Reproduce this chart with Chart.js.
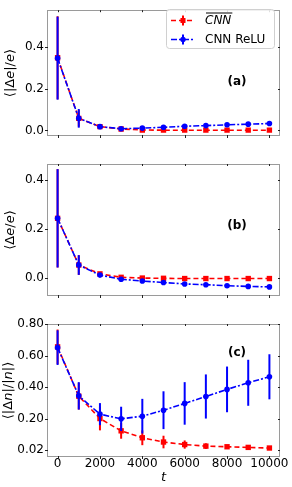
<!DOCTYPE html>
<html><head><meta charset="utf-8">
<script src="https://cdn.jsdelivr.net/npm/chart.js@4.4.1/dist/chart.umd.min.js"></script>
<style>
html,body{margin:0;padding:0;background:#fff;width:292px;height:487px;overflow:hidden}
.p{position:absolute;left:0;width:292px}
canvas{display:block}
</style></head><body>
<div class="p" style="top:0"><canvas id="ca" width="292" height="150"></canvas></div>
<div class="p" style="top:150px"><canvas id="cb" width="292" height="160"></canvas></div>
<div class="p" style="top:310px"><canvas id="cc" width="292" height="177"></canvas></div>
<script>
// ---------- data ----------
const tValues = [0,1000,2000,3000,4000,5000,6000,7000,8000,9000,10000];
const xTicks = [0,2000,4000,6000,8000,10000];

// panel (a) <|Δe|/e>
const aCnn     = [0.350,0.058,0.018,0.007,0.002,0.001,0.001,0.001,0.001,0.001,0.001];
const aCnnErr  = [0.200,0.040,0.006,0.003,0.002,0.002,0.002,0.002,0.002,0.002,0.002];
const aRelu    = [0.348,0.058,0.018,0.008,0.011,0.015,0.020,0.023,0.027,0.030,0.033];
const aReluErr = [0.200,0.045,0.006,0.004,0.004,0.004,0.004,0.004,0.004,0.004,0.004];
const aYTicks  = [0,0.2,0.4];
const aYLabels = ["0.0","0.2","0.4"];

// panel (b) <Δe/e>
const bCnn     = [0.244,0.054,0.018,0.004,0.001,0.000,-0.001,-0.001,-0.001,-0.001,-0.001];
const bCnnErr  = [0.200,0.040,0.006,0.003,0.002,0.002,0.002,0.002,0.002,0.002,0.002];
const bRelu    = [0.244,0.054,0.013,-0.004,-0.011,-0.017,-0.023,-0.026,-0.030,-0.033,-0.035];
const bReluErr = [0.200,0.040,0.006,0.004,0.004,0.004,0.004,0.004,0.004,0.004,0.004];
const bYTicks  = [0,0.2,0.4];
const bYLabels = ["0.0","0.2","0.4"];

// panel (c) <|Δn|/|n|>
const cCnn     = [0.655,0.342,0.200,0.122,0.078,0.051,0.035,0.025,0.021,0.017,0.013];
const cCnnErr  = [0.110,0.085,0.075,0.050,0.047,0.040,0.026,0.018,0.012,0.010,0.006];
const cRelu    = [0.650,0.344,0.228,0.198,0.215,0.253,0.296,0.340,0.385,0.427,0.465];
const cReluErr = [0.110,0.087,0.070,0.077,0.110,0.120,0.135,0.140,0.145,0.146,0.143];
const cYTicks  = [0,0.2,0.4,0.6,0.8];
const cYLabels = ["0.02","0.20","0.40","0.60","0.80"];

const seriesNames = ["CNN","CNN ReLU"];
const panelTags = ["(a)","(b)","(c)"];

// ---------- styling ----------
const FONT = "DejaVu Sans";
const RED = "#ff0000", BLUE = "#0000ff";
Chart.defaults.font.family = FONT;
Chart.defaults.color = "#000";

function drawRich(ctx, segs, size) {
  let w = 0;
  const widths = segs.map(s => { ctx.font = (s[1]||"") + " " + size + "px '" + FONT + "'"; const m = ctx.measureText(s[0]).width; w += m; return m; });
  let x = -w/2;
  segs.forEach((s,i) => { ctx.font = (s[1]||"") + " " + size + "px '" + FONT + "'"; ctx.fillText(s[0], x, 0); x += widths[i]; });
  return w;
}

const framePlugin = {
  id: 'frame',
  afterDatasetDraw(chart, args) {
    const ds = chart.data.datasets[args.index];
    if (!ds.err) return;
    const xs = chart.scales.x, ys = chart.scales.y, ctx = chart.ctx;
    ctx.save();
    ctx.strokeStyle = ds.borderColor; ctx.lineWidth = 2; ctx.setLineDash([]);
    ds.data.forEach((p,i) => {
      const x = xs.getPixelForValue(p.x);
      ctx.beginPath();
      ctx.moveTo(x, ys.getPixelForValue(p.y + ds.err[i]));
      ctx.lineTo(x, ys.getPixelForValue(p.y - ds.err[i]));
      ctx.stroke();
    });
    ctx.restore();
  },
  afterDraw(chart) {
    const o = chart.options.plugins.frame;
    const ctx = chart.ctx, a = chart.chartArea, xs = chart.scales.x, ys = chart.scales.y;
    ctx.save();
    // spines
    ctx.strokeStyle = "#9a9a9a"; ctx.lineWidth = 1;
    ctx.strokeRect(Math.round(a.left)+0.5, Math.round(a.top)+0.5, Math.round(a.right-a.left)-1, Math.round(a.bottom-a.top)-1);
    // ticks
    ctx.strokeStyle = "#222"; ctx.lineWidth = 1;
    xs.ticks.forEach(t => {
      const x = Math.round(xs.getPixelForValue(t.value)) + 0.5;
      ctx.beginPath(); ctx.moveTo(x, a.bottom - 1); ctx.lineTo(x, a.bottom + 2); ctx.stroke();
      ctx.beginPath(); ctx.moveTo(x, a.top); ctx.lineTo(x, a.top + 2); ctx.stroke();
    });
    ys.ticks.forEach(t => {
      const y = Math.round(ys.getPixelForValue(t.value)) + 0.5;
      ctx.beginPath(); ctx.moveTo(a.left - 2, y); ctx.lineTo(a.left + 1, y); ctx.stroke();
      ctx.beginPath(); ctx.moveTo(a.right - 2, y); ctx.lineTo(a.right, y); ctx.stroke();
    });
    // panel tag
    ctx.fillStyle = "#000"; ctx.textAlign = "center"; ctx.textBaseline = "middle";
    ctx.font = "bold 12px '" + FONT + "'";
    ctx.fillText(o.tag, o.tagX, o.tagY);
    // y title
    ctx.save();
    ctx.translate(o.titleX, (a.top + a.bottom)/2);
    ctx.rotate(-Math.PI/2);
    ctx.textAlign = "left"; ctx.textBaseline = "middle";
    drawRich(ctx, o.title, 13);
    ctx.restore();
    // legend
    if (o.legend) {
      const L = {x:166, y:9, w:108, h:39};
      ctx.beginPath();
      ctx.roundRect(L.x+0.5, L.y+0.5, L.w, L.h, 3);
      ctx.fillStyle = "rgba(255,255,255,0.85)"; ctx.fill();
      ctx.strokeStyle = "#d0d0d0"; ctx.stroke();
      const rows = [
        {c:RED, dash:[5,3], y:20.5, marker:'rect', name:seriesNames[0], italic:true},
        {c:BLUE, dash:[6,2,2,2], y:39.5, marker:'circle', name:seriesNames[1], italic:false}
      ];
      rows.forEach(r => {
        ctx.strokeStyle = r.c; ctx.fillStyle = r.c; ctx.lineWidth = 1.5; ctx.setLineDash(r.dash);
        ctx.beginPath(); ctx.moveTo(171, r.y); ctx.lineTo(195, r.y); ctx.stroke();
        ctx.setLineDash([]); ctx.lineWidth = 2;
        ctx.beginPath(); ctx.moveTo(183, r.y-5); ctx.lineTo(183, r.y+5); ctx.stroke();
        if (r.marker === 'rect') ctx.fillRect(180.5, r.y-2.5, 5, 5);
        else { ctx.beginPath(); ctx.arc(183, r.y, 2.7, 0, Math.PI*2); ctx.fill(); }
        ctx.fillStyle = "#000"; ctx.textAlign = "left"; ctx.textBaseline = "middle";
        ctx.font = (r.italic ? "italic " : "") + "12px '" + FONT + "'";
        ctx.fillText(r.name, 205, r.y);
        if (r.italic) {
          const w = ctx.measureText(r.name).width;
          ctx.strokeStyle = "#000"; ctx.lineWidth = 1;
          ctx.beginPath(); ctx.moveTo(206, r.y - 7.5); ctx.lineTo(205 + w + 1, r.y - 7.5); ctx.stroke();
        }
      });
    }
    ctx.restore();
  }
};

function makePanel(id, cnn, cnnErr, relu, reluErr, yTicks, yLabels, yMin, yMax, padTop, xHeight, showX, extra) {
  const pts = v => tValues.map((t,i) => ({x:t, y:v[i]}));
  return new Chart(document.getElementById(id), {
    type: 'line',
    data: {
      datasets: [
        {label: seriesNames[1], data: pts(relu), err: reluErr, borderColor: BLUE, backgroundColor: BLUE,
         borderWidth: 1.6, borderDash: [6,2,2,2], pointStyle: 'circle', pointRadius: 2.8,
         pointBackgroundColor: BLUE, pointBorderWidth: 0, tension: 0, fill: false},
        {label: seriesNames[0], data: pts(cnn), err: cnnErr, borderColor: RED, backgroundColor: RED,
         borderWidth: 1.6, borderDash: [5,3], pointStyle: 'rect', pointRadius: 3.8,
         pointBackgroundColor: RED, pointBorderWidth: 0, tension: 0, fill: false}
      ]
    },
    options: {
      responsive: false, animation: false, devicePixelRatio: 1,
      layout: {padding: {top: padTop, right: 12, left: 0, bottom: 0}},
      events: [],
      plugins: {legend: {display: false}, tooltip: {enabled: false}, frame: extra},
      scales: {
        x: {
          type: 'linear', min: -500, max: 10500,
          afterBuildTicks: s => { s.ticks = xTicks.map(v => ({value: v})); },
          afterFit: s => { s.height = xHeight; },
          grid: {display: false, drawTicks: false}, border: {display: false},
          ticks: {display: showX, autoSkip: false, maxRotation: 0, minRotation: 0, padding: 0,
                  font: {size: 12, family: FONT}, color: '#000', callback: v => String(v)},
          title: {display: showX, text: 't', color: '#000', font: {size: 13, style: 'italic', family: FONT}, padding: {top: 0, bottom: 2}}
        },
        y: {
          type: 'linear', min: yMin, max: yMax,
          afterBuildTicks: s => { s.ticks = yTicks.map(v => ({value: v})); },
          afterFit: s => { s.width = 47; },
          grid: {display: false, drawTicks: false}, border: {display: false},
          ticks: {autoSkip: false, padding: 3, font: {size: 12, family: FONT}, color: '#000',
                  callback: (v, i) => yLabels[i]}
        }
      }
    },
    plugins: [framePlugin]
  });
}

makePanel('ca', aCnn, aCnnErr, aRelu, aReluErr, aYTicks, aYLabels, -0.027, 0.579, 3, 14, false,
  {tag: panelTags[0], tagX: 237, tagY: 82, titleX: 11, legend: true,
   title: [["⟨|Δ",""],["e","italic"],["|/",""],["e","italic"],["⟩",""]]});
makePanel('cb', bCnn, bCnnErr, bRelu, bReluErr, bYTicks, bYLabels, -0.072, 0.465, 14, 14, false,
  {tag: panelTags[1], tagX: 237, tagY: 75.5, titleX: 11, legend: false,
   title: [["⟨Δ",""],["e","italic"],["/",""],["e","italic"],["⟩",""]]});
makePanel('cc', cCnn, cCnnErr, cRelu, cReluErr, cYTicks, cYLabels, -0.044, 0.8, 14, 30, true,
  {tag: panelTags[2], tagX: 237, tagY: 42.5, titleX: 9, legend: false,
   title: [["⟨|Δ",""],["n","italic"],["|/|",""],["n","italic"],["|⟩",""]]});
</script>
</body></html>
